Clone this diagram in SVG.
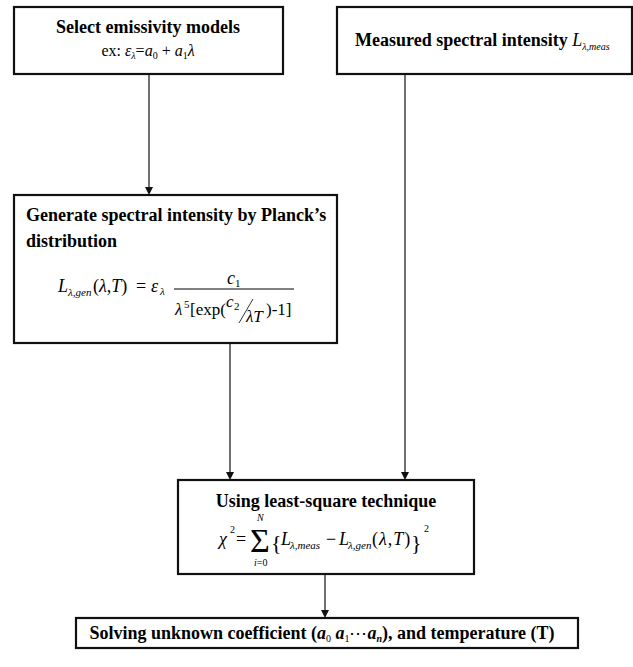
<svg xmlns="http://www.w3.org/2000/svg" width="633" height="667" viewBox="0 0 633 667" font-family="'Times New Roman', 'Liberation Serif', Times, serif">
<defs>
<style>
text{font-family:"Times New Roman","Liberation Serif",Times,serif;fill:#000}
.box{fill:#fff;stroke:#111;stroke-width:2.2}
.t{font-size:18px;font-weight:bold}
.m{font-size:18px}
.d{font-size:17px}
.i{font-style:italic}
.s{font-size:11px}
.line{stroke:#111;stroke-width:1.2;fill:none}
.head{fill:#111}
.rule{stroke:#000;stroke-width:1}
</style>
</defs>
<rect width="633" height="667" fill="#fff"/>
<g id="connectors">
<line class="line" x1="149" y1="75" x2="149" y2="187"/>
<polygon class="head" points="145,187 153,187 149,195"/>
<line class="line" x1="405" y1="75" x2="405" y2="472"/>
<polygon class="head" points="401,472 409,472 405,480"/>
<line class="line" x1="230" y1="344" x2="230" y2="472"/>
<polygon class="head" points="226,472 234,472 230,480"/>
<line class="line" x1="325" y1="575" x2="325" y2="610"/>
<polygon class="head" points="321,610 329,610 325,618"/>
</g>
<g id="node-select">
<rect class="box" x="14" y="7" width="269" height="67"/>
<text class="t" x="148" y="33" text-anchor="middle">Select emissivity models</text>
<text x="148" y="56" text-anchor="middle" font-size="16">ex: <tspan class="i">ε</tspan><tspan class="i" font-size="10" dy="3">λ</tspan><tspan dy="-3">=</tspan><tspan class="i">a</tspan><tspan font-size="10" dy="3">0</tspan><tspan dy="-3"> + </tspan><tspan class="i">a</tspan><tspan font-size="10" dy="3">1</tspan><tspan class="i" dy="-3">λ</tspan></text>
</g>
<g id="node-measured">
<rect class="box" x="337" y="7" width="295" height="67"/>
<text class="t" x="355" y="46">Measured spectral intensity <tspan class="i" font-weight="normal">L</tspan><tspan class="i" font-size="10" font-weight="normal" dy="4">λ,meas</tspan></text>
</g>
<g id="node-generate">
<rect class="box" x="14" y="195" width="323" height="148"/>
<text class="t" x="26" y="221">Generate spectral intensity by Planck’s</text>
<text class="t" x="26" y="247">distribution</text>
<text class="m"><tspan class="i" x="58" y="292">L</tspan><tspan class="s i" x="68" y="296">λ,gen</tspan><tspan x="93" y="292">(</tspan><tspan class="i">λ</tspan>,<tspan class="i">T</tspan>)<tspan x="136" y="292">=</tspan><tspan class="i" x="151" y="292">ε</tspan><tspan class="s i" x="160" y="295">λ</tspan></text>
<text class="m"><tspan class="i" x="227" y="284">c</tspan><tspan class="s" x="235" y="287">1</tspan></text>
<line class="rule" x1="174" y1="289" x2="294" y2="289"/>
<text class="d"><tspan class="i" x="175" y="315">λ</tspan><tspan class="s" x="184" y="308">5</tspan><tspan x="190" y="315">[exp(</tspan><tspan class="i" x="226" y="307">c</tspan><tspan class="s" x="234" y="310">2</tspan><tspan class="i" x="246" y="322">λT</tspan><tspan x="266" y="315">)-1]</tspan></text>
<line x1="253" y1="299" x2="239" y2="323" stroke="#000" stroke-width="0.8"/>
</g>
<g id="node-leastsquare">
<rect class="box" x="178" y="480" width="296" height="94"/>
<text class="t" x="326" y="507" text-anchor="middle">Using least-square technique</text>
<text class="m"><tspan class="i" x="219" y="545">χ</tspan><tspan font-size="10" x="230" y="533">2</tspan><tspan x="236" y="545">=</tspan></text>
<text x="260" y="552" font-size="34" text-anchor="middle">Σ</text>
<text class="i" font-size="10" x="257" y="521">N</text>
<text font-size="10" x="254" y="566"><tspan class="i">i</tspan>=0</text>
<text x="271" y="550" font-size="22">{</text>
<text class="m"><tspan class="i" x="281" y="545">L</tspan><tspan class="s i" x="290" y="549">λ,meas</tspan><tspan x="326" y="545">−</tspan><tspan class="i" x="339" y="545">L</tspan><tspan class="s i" x="348" y="549">λ,gen</tspan><tspan x="372" y="545" letter-spacing="1">(<tspan class="i">λ</tspan>,<tspan class="i">T</tspan>)</tspan></text>
<text x="411" y="550" font-size="22">}</text>
<text font-size="10" x="424" y="532">2</text>
</g>
<g id="node-solving">
<rect class="box" x="76" y="618" width="502" height="30"/>
<text class="t" x="322" y="639" text-anchor="middle">Solving unknown coefficient (<tspan class="i">a</tspan><tspan font-size="10" font-weight="normal" dy="3">0</tspan><tspan dy="-3"> </tspan><tspan class="i">a</tspan><tspan font-size="10" font-weight="normal" dy="3">1</tspan><tspan dy="-3" font-weight="normal">⋯</tspan><tspan class="i">a</tspan><tspan font-size="10" class="i" dy="3">n</tspan><tspan dy="-3">), and temperature (T)</tspan></text>
</g>
</svg>
